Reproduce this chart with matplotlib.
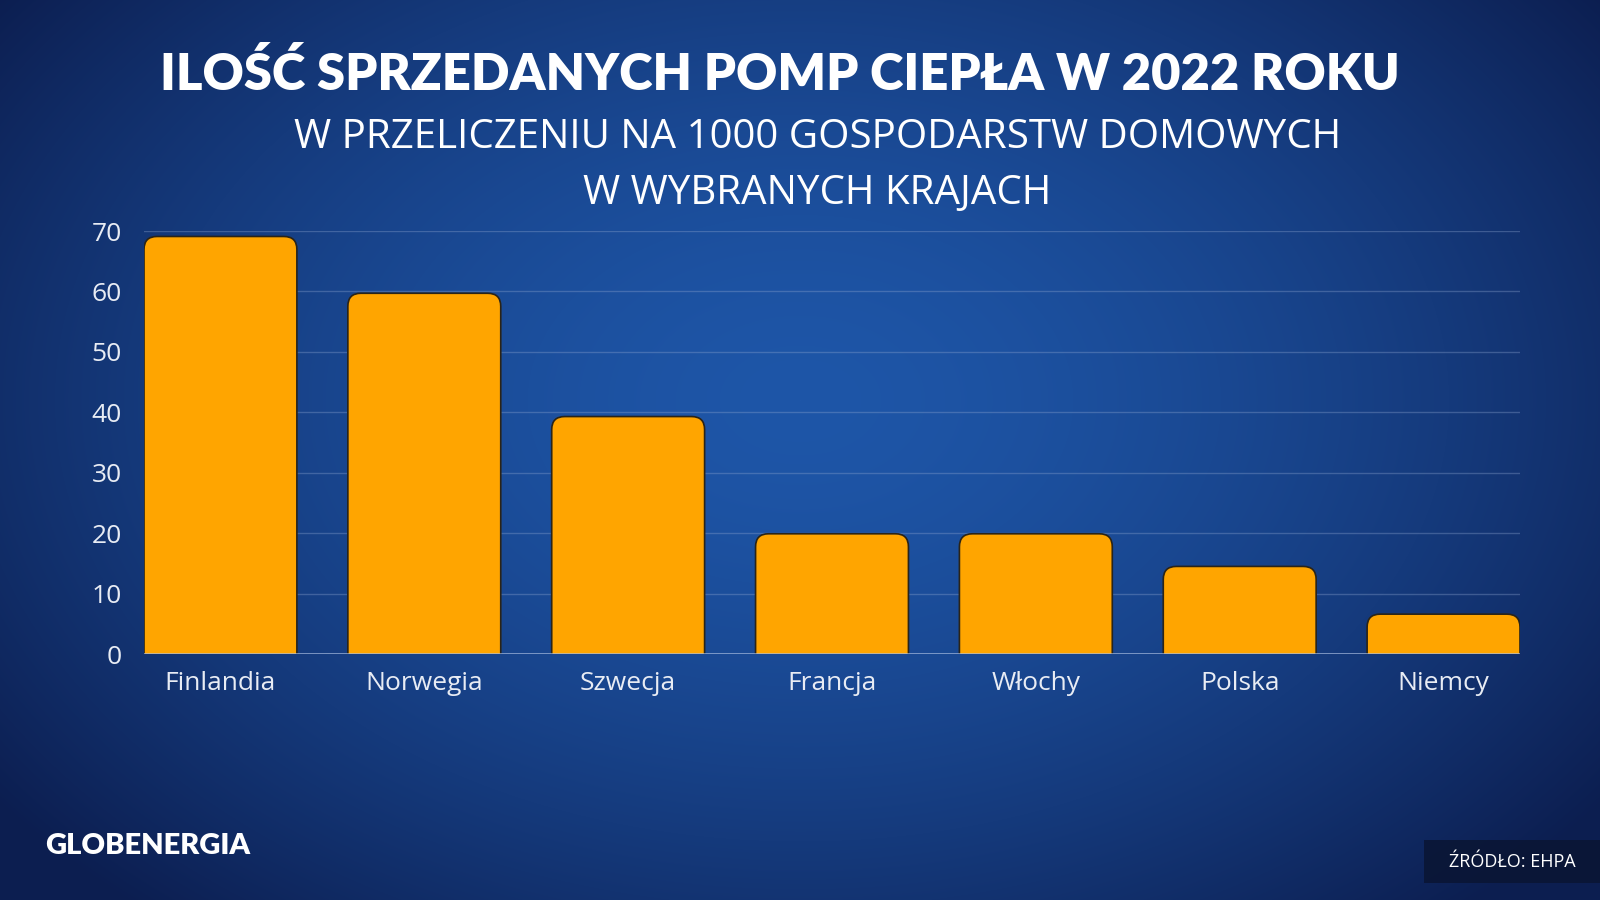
import matplotlib.pyplot as plt
import numpy as np
from matplotlib.patches import FancyBboxPatch, Rectangle

countries = ["Finlandia", "Norwegia", "Szwecja", "Francja", "Włochy", "Polska", "Niemcy"]
pumps_per_1000 = [69.1, 59.7, 39.3, 19.9, 19.9, 14.5, 6.6]
yticks = [0, 10, 20, 30, 40, 50, 60, 70]

title = "ILOŚĆ SPRZEDANYCH POMP CIEPŁA W 2022 ROKU"
subtitle = "W PRZELICZENIU NA 1000 GOSPODARSTW DOMOWYCH\nW WYBRANYCH KRAJACH"
source = "ŹRÓDŁO: EHPA"
logo = "GLOBENERGIA"

W, H = 1600, 900
fig = plt.figure(figsize=(16, 9), dpi=100)

# radial blue background
bg = fig.add_axes([0, 0, 1, 1])
yy, xx = np.mgrid[0:H, 0:W]
d = np.sqrt(((xx - 800) / 1000.0) ** 2 + ((yy - 400) / 680.0) ** 2)
d = np.clip(d, 0, 1)
inner = np.array([30, 86, 168]) / 255.0
outer = np.array([12, 30, 80]) / 255.0
t = d[..., None] ** 1.6
img = inner[None, None, :] * (1 - t) + outer[None, None, :] * t
bg.imshow(img, aspect="auto", extent=[0, 1, 0, 1])
bg.axis("off")

ax = fig.add_axes([0.09, 0.2733, 0.86, 0.470])
ax.set_facecolor("none")
x = np.arange(len(countries))
bars = ax.bar(x, pumps_per_1000, width=0.75, color="none")
ax.set_xlim(-0.375, len(countries) - 0.625)
ax.set_ylim(0, 70)

# rounded top corners
fig.canvas.draw()
bbox = ax.get_window_extent()
px_x = bbox.width / (ax.get_xlim()[1] - ax.get_xlim()[0])
px_y = bbox.height / (ax.get_ylim()[1] - ax.get_ylim()[0])
aspect = px_x / px_y
r = 13 / px_x
for b in bars:
    bx, bw, bh = b.get_x(), b.get_width(), b.get_height()
    p = FancyBboxPatch((bx, -5), bw, bh + 5,
                       boxstyle=f"round,pad=0,rounding_size={r}",
                       mutation_aspect=aspect, facecolor="#FFA500",
                       edgecolor="#2a2418", linewidth=1.2, zorder=3)
    p.set_clip_path(Rectangle((-0.375, 0), len(countries), 80, transform=ax.transData))
    ax.add_patch(p)
    b.remove()

for v in yticks[1:]:
    ax.axhline(v, color="#8fa6d0", alpha=0.35, lw=1, zorder=1)
ax.axhline(0, color="#a9bde0", alpha=0.8, lw=1.2, zorder=4)

for s in ax.spines.values():
    s.set_visible(False)
ax.set_yticks(yticks)
ax.set_xticks(x)
ax.set_xticklabels(countries)
ax.tick_params(axis="y", length=0, pad=16, labelsize=19, labelcolor="#e8ecf4")
ax.tick_params(axis="x", length=0, pad=12, labelsize=19, labelcolor="#e8ecf4")
for lab in ax.get_xticklabels() + ax.get_yticklabels():
    lab.set_family("Open Sans")

fig.text(0.4875, 0.918, title, ha="center", va="center", color="white",
         fontsize=36.5, fontweight="heavy", family="Lato")
fig.text(0.511, 0.816, subtitle, ha="center", va="center", color="white",
         fontsize=29, family="Open Sans", linespacing=1.53)

fig.text(0.028, 0.06, logo, ha="left", va="center", color="white",
         fontsize=21, fontweight="heavy", family="Lato")

fig.patches.append(Rectangle((1424 / W, 1 - 883 / H), (W - 1424) / W, 43 / H,
                             transform=fig.transFigure, facecolor="#0a1533",
                             edgecolor="none", alpha=0.85))
fig.text(0.9455, 0.042, source, ha="center", va="center", color="white",
         fontsize=13, family="Open Sans")

fig.savefig("out.png", dpi=100)
